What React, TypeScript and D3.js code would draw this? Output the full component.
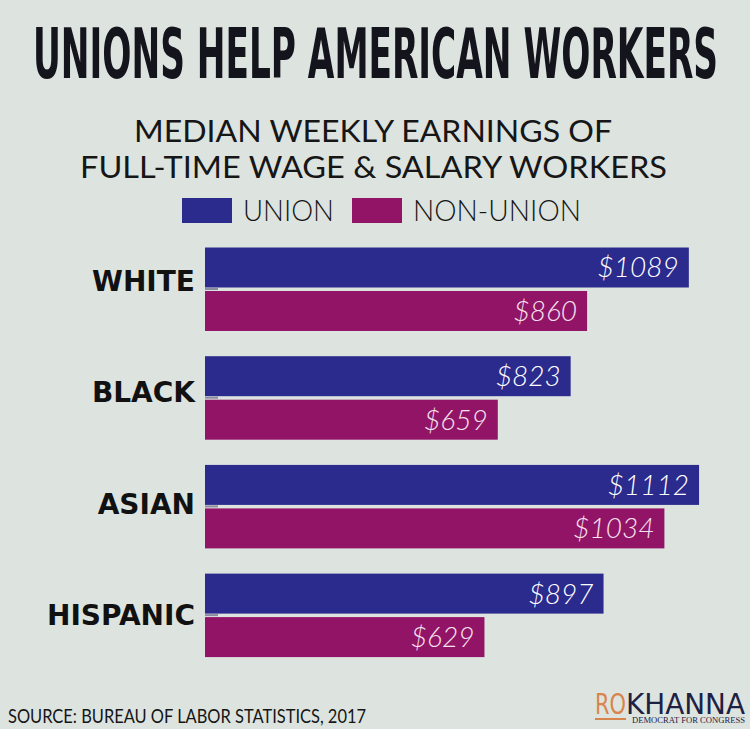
import * as d3 from 'd3';

const categories = ['WHITE', 'BLACK', 'ASIAN', 'HISPANIC'];
const seriesKeys = ['union', 'nonUnion'];
const seriesNames = ['UNION', 'NON-UNION'];
const unionValues = [1089, 823, 1112, 897];
const nonUnionValues = [860, 659, 1034, 629];

const W = 750;
const H = 729;
const bg = '#dde4e0';
const colors = { union: '#2b2a8d', nonUnion: '#921467' };
const labelColors = { union: '#ffffff', nonUnion: '#f6e2ee' };

export default function App() {
    const x = d3.scaleLinear().domain([0, 1200]).range([205, 205 + 1200 * 0.4443]);

    const y = d3
        .scaleBand<string>()
        .domain(categories)
        .range([247.5, 247.5 + 3 * 108.7 + 83.5])
        .paddingInner(0.232)
        .paddingOuter(0);

    const ySub = d3
        .scaleBand<string>()
        .domain(seriesKeys)
        .range([0, y.bandwidth()])
        .paddingInner(0.0805);

    // category labels drift slightly relative to the bars in the original
    const yLabel = d3.scalePoint<string>().domain(categories).range([290.7, 625]);

    const rows = categories.map((c, i) => ({
        category: c,
        union: unionValues[i],
        nonUnion: nonUnionValues[i],
    }));

    return (
        <div style={{ position: 'fixed', left: 0, top: 0, width: W, height: H }}>
            <svg width={W} height={H} style={{ background: bg, display: 'block' }}>
                <rect width={W} height={H} fill={bg} />

                {/* title */}
                <text
                    x={33}
                    y={78}
                    fontFamily="'Liberation Sans Narrow', 'DejaVu Sans Condensed', sans-serif"
                    fontWeight="bold"
                    fontSize={69}
                    fill="#14141c"
                    textLength={685}
                    lengthAdjust="spacingAndGlyphs"
                >
                    UNIONS HELP AMERICAN WORKERS
                </text>

                {/* subtitle */}
                <g fontFamily="Lato, 'Open Sans', sans-serif" fontWeight={400} fontSize={30} fill="#161616" textAnchor="middle">
                    <text x={373} y={142} textLength={478} lengthAdjust="spacingAndGlyphs">
                        MEDIAN WEEKLY EARNINGS OF
                    </text>
                    <text x={373.5} y={178} textLength={587} lengthAdjust="spacingAndGlyphs">
                        FULL-TIME WAGE &amp; SALARY WORKERS
                    </text>
                </g>

                {/* legend */}
                <g fontFamily="Lato, 'Open Sans', sans-serif" fontWeight={300} fontSize={29} fill="#161616">
                    <rect x={182} y={198} width={50} height={25} fill={colors.union} />
                    <text x={243} y={221} textLength={91} lengthAdjust="spacingAndGlyphs">
                        {seriesNames[0]}
                    </text>
                    <rect x={352} y={198} width={50} height={25} fill={colors.nonUnion} />
                    <text x={413} y={221} textLength={168} lengthAdjust="spacingAndGlyphs">
                        {seriesNames[1]}
                    </text>
                </g>

                {/* bars */}
                {rows.map(r => {
                    const gy = y(r.category)!;
                    return (
                        <g key={r.category}>
                            <text
                                x={195}
                                y={yLabel(r.category)}
                                textAnchor="end"
                                fontFamily="'DejaVu Sans', sans-serif"
                                fontWeight="bold"
                                fontSize={28}
                                fill="#111"
                            >
                                {r.category}
                            </text>
                            {seriesKeys.map(k => {
                                const v = r[k as 'union' | 'nonUnion'];
                                const by = gy + ySub(k)!;
                                return (
                                    <g key={k}>
                                        <rect
                                            x={x(0)}
                                            y={by}
                                            width={x(v) - x(0)}
                                            height={ySub.bandwidth()}
                                            fill={colors[k as 'union' | 'nonUnion']}
                                        />
                                        <text
                                            x={x(v) - 10}
                                            y={by + ySub.bandwidth() / 2 + 10}
                                            textAnchor="end"
                                            fontFamily="Lato, 'Open Sans', sans-serif"
                                            fontStyle="italic"
                                            fontWeight={300}
                                            fontSize={28}
                                            fill={labelColors[k as 'union' | 'nonUnion']}
                                        >
                                            ${v}
                                        </text>
                                    </g>
                                );
                            })}
                            <rect
                                x={x(0)}
                                y={gy + ySub.bandwidth() + 0.5}
                                width={13}
                                height={2}
                                fill="#8c8ca0"
                            />
                        </g>
                    );
                })}

                {/* source */}
                <text
                    x={8}
                    y={723}
                    fontFamily="Lato, 'Open Sans', sans-serif"
                    fontSize={20}
                    fill="#161616"
                    textLength={358}
                    lengthAdjust="spacingAndGlyphs"
                >
                    SOURCE: BUREAU OF LABOR STATISTICS, 2017
                </text>

                {/* logo */}
                <g fontFamily="'Liberation Sans Narrow', 'DejaVu Sans Condensed', sans-serif" fontSize={29}>
                    <text x={595} y={714} fill="#d8844c" textLength={31} lengthAdjust="spacingAndGlyphs">
                        RO
                    </text>
                    <text x={626} y={714} fill="#1d2143" textLength={119} lengthAdjust="spacingAndGlyphs">
                        KHANNA
                    </text>
                    <rect x={595} y={718} width={31} height={2} fill="#d8844c" />
                    <text
                        x={632}
                        y={723}
                        fontFamily="'Liberation Serif', serif"
                        fontSize={8.5}
                        fill="#1d2143"
                        textLength={113}
                        lengthAdjust="spacingAndGlyphs"
                    >
                        DEMOCRAT FOR CONGRESS
                    </text>
                </g>
            </svg>
        </div>
    );
}
